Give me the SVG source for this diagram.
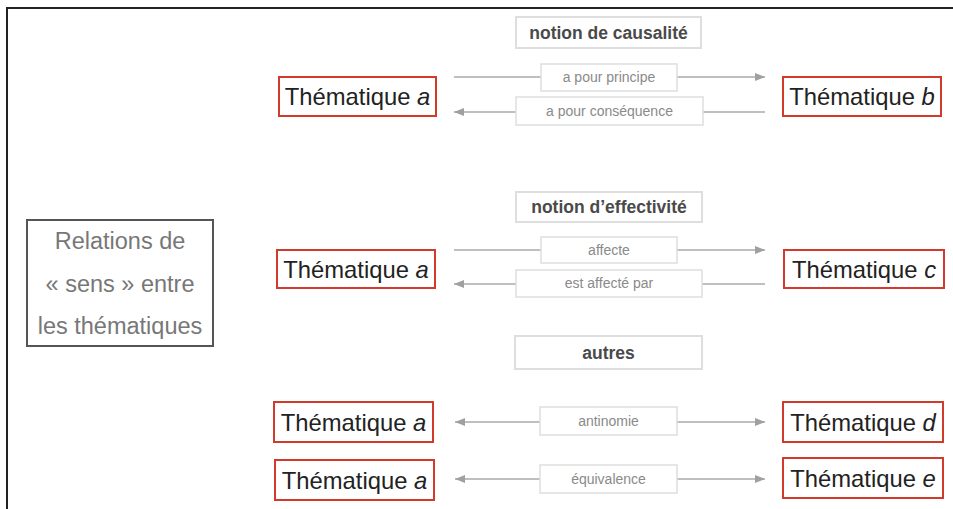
<svg xmlns="http://www.w3.org/2000/svg" width="953" height="509" viewBox="0 0 953 509">
<defs>
<style>
.frame{fill:none;stroke:#222;stroke-width:2}
.theme rect{fill:#fff;stroke:#d13b2c;stroke-width:2}
.theme text{font-family:"Liberation Sans",Arial,sans-serif;font-size:23.8px;fill:#222;text-anchor:middle}
.it{font-style:italic}
.title rect{fill:#fff;stroke:#dedede;stroke-width:2}
.title text{font-family:"Liberation Sans",Arial,sans-serif;font-size:17.5px;font-weight:bold;fill:#4a4a4a;text-anchor:middle}
.lbl rect{fill:#fff;stroke:#dedede;stroke-width:1.5}
.lbl text{font-family:"Liberation Sans",Arial,sans-serif;font-size:14px;fill:#8a8a8a;text-anchor:middle}
.conn line{stroke:#aaa;stroke-width:1.5}
.main rect{fill:#fff;stroke:#555;stroke-width:2}
.main text{font-family:"Liberation Sans",Arial,sans-serif;font-size:23.5px;fill:#777;text-anchor:middle}
</style>
<marker id="ah" viewBox="0 0 10 8" refX="10" refY="4" markerWidth="10" markerHeight="8" markerUnits="userSpaceOnUse" orient="auto-start-reverse">
<path d="M0,0 L10,4 L0,8 z" fill="#a0a0a0"/>
</marker>
</defs>
<rect width="953" height="509" fill="#fff"/>
<path class="frame" d="M7,509 V8 H953"/>

<g id="main" class="main">
<rect x="27" y="220" width="186" height="126"/>
<text x="120" y="249">Relations de</text>
<text x="120" y="292">« sens » entre</text>
<text x="120" y="334">les thématiques</text>
</g>

<g id="t-causalite" class="title">
<rect x="516" y="17" width="185" height="31"/>
<text x="608.5" y="38.5">notion de causalité</text>
</g>
<g id="t-effectivite" class="title">
<rect x="516" y="192" width="186" height="30"/>
<text x="609" y="213">notion d’effectivité</text>
</g>
<g id="t-autres" class="title">
<rect x="515" y="336" width="187" height="33"/>
<text x="608.5" y="358.5">autres</text>
</g>

<g id="connectors" class="conn">
<line x1="454" y1="77" x2="765" y2="77" marker-end="url(#ah)"/>
<line x1="765" y1="112" x2="454" y2="112" marker-end="url(#ah)"/>
<line x1="454" y1="250" x2="765" y2="250" marker-end="url(#ah)"/>
<line x1="765" y1="284" x2="454" y2="284" marker-end="url(#ah)"/>
<line x1="455" y1="422" x2="765" y2="422" marker-start="url(#ah)" marker-end="url(#ah)"/>
<line x1="455" y1="479" x2="765" y2="479" marker-start="url(#ah)" marker-end="url(#ah)"/>
<g class="lbl">
<rect x="541" y="64" width="136" height="27"/><text x="609" y="82">a pour principe</text>
<rect x="516" y="97" width="187" height="28"/><text x="609.5" y="116">a pour conséquence</text>
<rect x="541" y="237" width="136" height="26"/><text x="609" y="255">affecte</text>
<rect x="516" y="270" width="186" height="27"/><text x="609" y="288">est affecté par</text>
<rect x="540" y="407" width="137" height="28"/><text x="608.5" y="426">antinomie</text>
<rect x="540" y="465" width="137" height="28"/><text x="608.5" y="484">équivalence</text>
</g>
</g>

<g id="theme-a1" class="theme"><rect x="279" y="77" width="157" height="39"/><text x="357.5" y="105">Thématique <tspan class="it">a</tspan></text></g>
<g id="theme-b" class="theme"><rect x="783" y="77" width="158" height="39"/><text x="862" y="105">Thématique <tspan class="it">b</tspan></text></g>
<g id="theme-a2" class="theme"><rect x="277" y="250" width="158" height="38"/><text x="356" y="277.5">Thématique <tspan class="it">a</tspan></text></g>
<g id="theme-c" class="theme"><rect x="784" y="250" width="160" height="38"/><text x="864" y="277.5">Thématique <tspan class="it">c</tspan></text></g>
<g id="theme-a3" class="theme"><rect x="274" y="402" width="159" height="40"/><text x="353.5" y="430.5">Thématique <tspan class="it">a</tspan></text></g>
<g id="theme-d" class="theme"><rect x="783" y="402" width="160" height="40"/><text x="863" y="430.5">Thématique <tspan class="it">d</tspan></text></g>
<g id="theme-a4" class="theme"><rect x="275" y="460" width="159" height="40"/><text x="354.5" y="488.5">Thématique <tspan class="it">a</tspan></text></g>
<g id="theme-e" class="theme"><rect x="783" y="458" width="160" height="40"/><text x="863" y="486.5">Thématique <tspan class="it">e</tspan></text></g>
</svg>
